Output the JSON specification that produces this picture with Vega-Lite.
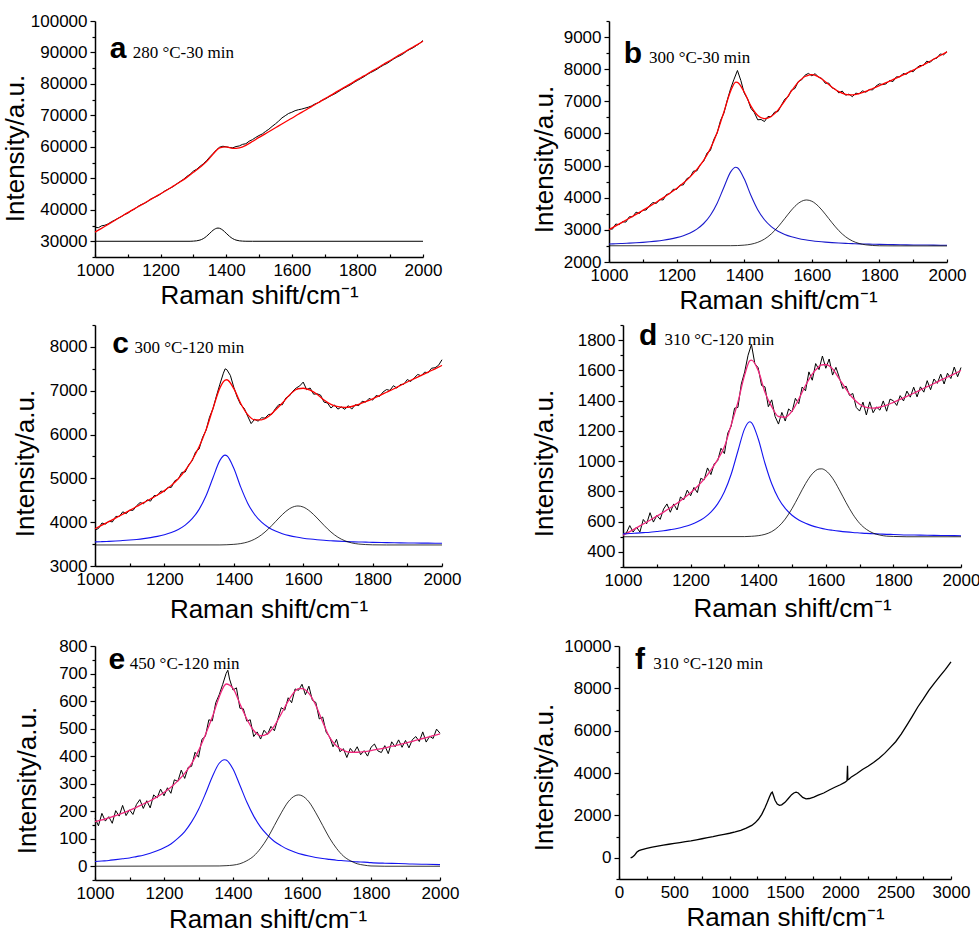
{
"$schema":"https://vega.github.io/schema/vega-lite/v6.json",
"background":"white",
"padding":{"left":2,"top":12,"right":0,"bottom":0},
"config":{"view":{"stroke":null},
"axis":{"labelFont":"Liberation Sans","labelFontSize":17,"labelColor":"black","titleFont":"Liberation Sans","titleFontSize":26,"titleFontWeight":"normal","titleColor":"black","domainColor":"black","domainWidth":1.5,"tickColor":"black","tickWidth":1.2,"grid":false,"labelOverlap":false,"labelFlush":false,"format":"d"},
"axisX":{"tickSize":-3,"labelPadding":8,"titlePadding":2},
"axisY":{"titlePadding":4,"labelPadding":3}},
"datasets":{
"a_exp":[{"x":1000,"y":34500},{"x":1010,"y":34300},{"x":1020,"y":34900},{"x":1030,"y":35100},{"x":1040,"y":35500},{"x":1050,"y":36200},{"x":1060,"y":36700},{"x":1070,"y":37300},{"x":1080,"y":37800},{"x":1090,"y":38500},{"x":1100,"y":38900},{"x":1110,"y":39700},{"x":1120,"y":40200},{"x":1130,"y":41000},{"x":1140,"y":41600},{"x":1150,"y":42000},{"x":1160,"y":42600},{"x":1170,"y":43400},{"x":1180,"y":43900},{"x":1190,"y":44400},{"x":1200,"y":45000},{"x":1210,"y":45800},{"x":1220,"y":46400},{"x":1230,"y":46900},{"x":1240,"y":47500},{"x":1250,"y":48300},{"x":1260,"y":49000},{"x":1270,"y":49700},{"x":1280,"y":50600},{"x":1290,"y":51300},{"x":1300,"y":52300},{"x":1310,"y":52900},{"x":1320,"y":53800},{"x":1330,"y":54600},{"x":1340,"y":55600},{"x":1350,"y":56800},{"x":1360,"y":57900},{"x":1370,"y":59000},{"x":1380,"y":59900},{"x":1390,"y":60200},{"x":1400,"y":60000},{"x":1410,"y":59800},{"x":1420,"y":59700},{"x":1430,"y":60100},{"x":1440,"y":60300},{"x":1450,"y":60800},{"x":1460,"y":61000},{"x":1470,"y":61800},{"x":1480,"y":62300},{"x":1490,"y":63000},{"x":1500,"y":63600},{"x":1510,"y":64100},{"x":1520,"y":64900},{"x":1530,"y":65600},{"x":1540,"y":66500},{"x":1550,"y":67300},{"x":1560,"y":68200},{"x":1570,"y":69200},{"x":1580,"y":69900},{"x":1590,"y":70600},{"x":1600,"y":71000},{"x":1610,"y":71500},{"x":1620,"y":71800},{"x":1630,"y":72000},{"x":1640,"y":72300},{"x":1650,"y":72600},{"x":1660,"y":73000},{"x":1670,"y":73600},{"x":1680,"y":74000},{"x":1690,"y":74700},{"x":1700,"y":75100},{"x":1710,"y":75700},{"x":1720,"y":76300},{"x":1730,"y":76800},{"x":1740,"y":77400},{"x":1750,"y":78100},{"x":1760,"y":78700},{"x":1770,"y":79200},{"x":1780,"y":79800},{"x":1790,"y":80500},{"x":1800,"y":81100},{"x":1810,"y":81700},{"x":1820,"y":82300},{"x":1830,"y":83000},{"x":1840,"y":83600},{"x":1850,"y":84100},{"x":1860,"y":84700},{"x":1870,"y":85400},{"x":1880,"y":86000},{"x":1890,"y":86500},{"x":1900,"y":87200},{"x":1910,"y":87900},{"x":1920,"y":88500},{"x":1930,"y":89000},{"x":1940,"y":89600},{"x":1950,"y":90400},{"x":1960,"y":91000},{"x":1970,"y":91500},{"x":1980,"y":92200},{"x":1990,"y":92900},{"x":2000,"y":93800}],
"a_fit":[{"x":1000,"y":32900},{"x":1020,"y":34100},{"x":1040,"y":35350},{"x":1060,"y":36600},{"x":1080,"y":37850},{"x":1100,"y":39100},{"x":1120,"y":40300},{"x":1140,"y":41500},{"x":1160,"y":42700},{"x":1180,"y":43900},{"x":1200,"y":45100},{"x":1220,"y":46300},{"x":1240,"y":47600},{"x":1260,"y":48900},{"x":1280,"y":50300},{"x":1300,"y":51900},{"x":1320,"y":53500},{"x":1340,"y":55300},{"x":1360,"y":57700},{"x":1380,"y":59700},{"x":1400,"y":60000},{"x":1420,"y":59500},{"x":1440,"y":59700},{"x":1460,"y":60500},{"x":1480,"y":61700},{"x":1500,"y":63000},{"x":1520,"y":64200},{"x":1540,"y":65450},{"x":1560,"y":66670},{"x":1580,"y":67900},{"x":1600,"y":69100},{"x":1620,"y":70350},{"x":1640,"y":71550},{"x":1660,"y":72800},{"x":1680,"y":74000},{"x":1700,"y":75250},{"x":1720,"y":76450},{"x":1740,"y":77700},{"x":1760,"y":78900},{"x":1780,"y":80100},{"x":1800,"y":81350},{"x":1820,"y":82550},{"x":1840,"y":83800},{"x":1860,"y":85000},{"x":1880,"y":86250},{"x":1900,"y":87450},{"x":1920,"y":88700},{"x":1940,"y":89900},{"x":1960,"y":91150},{"x":1980,"y":92350},{"x":2000,"y":93600}],
"a_c":[{"x":1000,"y":30000},{"x":1290,"y":30000},{"x":1300,"y":30046},{"x":1320,"y":30374},{"x":1330,"y":30832},{"x":1340,"y":31576},{"x":1350,"y":32547},{"x":1360,"y":33509},{"x":1375,"y":34200},{"x":1380,"y":34117},{"x":1390,"y":33509},{"x":1400,"y":32547},{"x":1410,"y":31576},{"x":1420,"y":30832},{"x":1430,"y":30374},{"x":1440,"y":30143},{"x":1460,"y":30010},{"x":1480,"y":30000},{"x":2000,"y":30000}],
"b_exp":[{"x":1000,"y":3040},{"x":1010,"y":3020},{"x":1020,"y":3183},{"x":1030,"y":3162},{"x":1040,"y":3252},{"x":1050,"y":3242},{"x":1060,"y":3407},{"x":1070,"y":3407},{"x":1080,"y":3552},{"x":1090,"y":3509},{"x":1100,"y":3611},{"x":1110,"y":3619},{"x":1120,"y":3757},{"x":1130,"y":3851},{"x":1140,"y":3821},{"x":1150,"y":3943},{"x":1160,"y":3930},{"x":1170,"y":4101},{"x":1180,"y":4128},{"x":1190,"y":4263},{"x":1200,"y":4258},{"x":1210,"y":4391},{"x":1220,"y":4400},{"x":1230,"y":4592},{"x":1240,"y":4645},{"x":1250,"y":4830},{"x":1260,"y":4835},{"x":1270,"y":5030},{"x":1280,"y":5135},{"x":1290,"y":5390},{"x":1300,"y":5470},{"x":1310,"y":5810},{"x":1320,"y":6015},{"x":1330,"y":6405},{"x":1340,"y":6635},{"x":1350,"y":7040},{"x":1360,"y":7400},{"x":1370,"y":7690},{"x":1380,"y":7960},{"x":1390,"y":7650},{"x":1400,"y":7260},{"x":1410,"y":7075},{"x":1420,"y":6780},{"x":1430,"y":6650},{"x":1440,"y":6425},{"x":1450,"y":6435},{"x":1460,"y":6370},{"x":1470,"y":6525},{"x":1480,"y":6525},{"x":1490,"y":6665},{"x":1500,"y":6682},{"x":1510,"y":6880},{"x":1520,"y":7066},{"x":1530,"y":7141},{"x":1540,"y":7352},{"x":1550,"y":7399},{"x":1560,"y":7616},{"x":1570,"y":7670},{"x":1580,"y":7814},{"x":1590,"y":7870},{"x":1600,"y":7795},{"x":1610,"y":7860},{"x":1620,"y":7750},{"x":1630,"y":7710},{"x":1640,"y":7560},{"x":1650,"y":7570},{"x":1660,"y":7420},{"x":1670,"y":7375},{"x":1680,"y":7260},{"x":1690,"y":7320},{"x":1700,"y":7190},{"x":1710,"y":7225},{"x":1720,"y":7145},{"x":1730,"y":7255},{"x":1740,"y":7235},{"x":1750,"y":7325},{"x":1760,"y":7285},{"x":1770,"y":7365},{"x":1780,"y":7355},{"x":1790,"y":7475},{"x":1800,"y":7545},{"x":1810,"y":7520},{"x":1820,"y":7545},{"x":1830,"y":7648},{"x":1840,"y":7615},{"x":1850,"y":7762},{"x":1860,"y":7760},{"x":1870,"y":7865},{"x":1880,"y":7840},{"x":1890,"y":7945},{"x":1900,"y":7920},{"x":1910,"y":8040},{"x":1920,"y":8115},{"x":1930,"y":8115},{"x":1940,"y":8250},{"x":1950,"y":8210},{"x":1960,"y":8315},{"x":1970,"y":8343},{"x":1980,"y":8475},{"x":1990,"y":8447},{"x":2000,"y":8550}],
"b_fit":[{"x":1000,"y":3007},{"x":1020,"y":3123},{"x":1040,"y":3242},{"x":1060,"y":3362},{"x":1080,"y":3482},{"x":1100,"y":3606},{"x":1120,"y":3732},{"x":1140,"y":3861},{"x":1160,"y":3995},{"x":1180,"y":4138},{"x":1200,"y":4288},{"x":1220,"y":4455},{"x":1240,"y":4650},{"x":1260,"y":4880},{"x":1280,"y":5160},{"x":1300,"y":5530},{"x":1320,"y":6030},{"x":1340,"y":6670},{"x":1360,"y":7320},{"x":1375,"y":7600},{"x":1380,"y":7590},{"x":1400,"y":7290},{"x":1420,"y":6850},{"x":1440,"y":6560},{"x":1460,"y":6460},{"x":1480,"y":6530},{"x":1500,"y":6727},{"x":1520,"y":7011},{"x":1540,"y":7322},{"x":1560,"y":7596},{"x":1580,"y":7774},{"x":1585,"y":7795},{"x":1600,"y":7830},{"x":1620,"y":7760},{"x":1640,"y":7610},{"x":1660,"y":7440},{"x":1680,"y":7300},{"x":1700,"y":7220},{"x":1720,"y":7200},{"x":1740,"y":7240},{"x":1760,"y":7310},{"x":1780,"y":7400},{"x":1800,"y":7490},{"x":1820,"y":7580},{"x":1840,"y":7675},{"x":1860,"y":7770},{"x":1880,"y":7870},{"x":1900,"y":7970},{"x":1920,"y":8080},{"x":1940,"y":8190},{"x":1960,"y":8310},{"x":1980,"y":8425},{"x":2000,"y":8540}],
"b_l":[{"x":1000,"y":2561},{"x":1020,"y":2568},{"x":1040,"y":2576},{"x":1060,"y":2586},{"x":1080,"y":2597},{"x":1100,"y":2611},{"x":1120,"y":2629},{"x":1140,"y":2650},{"x":1160,"y":2677},{"x":1180,"y":2712},{"x":1200,"y":2758},{"x":1220,"y":2819},{"x":1240,"y":2904},{"x":1260,"y":3024},{"x":1280,"y":3198},{"x":1300,"y":3456},{"x":1320,"y":3831},{"x":1340,"y":4328},{"x":1360,"y":4806},{"x":1375,"y":4950},{"x":1380,"y":4933},{"x":1400,"y":4588},{"x":1420,"y":4068},{"x":1440,"y":3627},{"x":1460,"y":3315},{"x":1480,"y":3103},{"x":1500,"y":2959},{"x":1520,"y":2858},{"x":1540,"y":2786},{"x":1560,"y":2733},{"x":1580,"y":2693},{"x":1600,"y":2663},{"x":1620,"y":2639},{"x":1640,"y":2620},{"x":1660,"y":2604},{"x":1680,"y":2591},{"x":1700,"y":2581},{"x":1720,"y":2572},{"x":1740,"y":2564},{"x":1760,"y":2558},{"x":1780,"y":2553},{"x":1800,"y":2548},{"x":1840,"y":2540},{"x":1880,"y":2534},{"x":1920,"y":2529},{"x":1960,"y":2525},{"x":2000,"y":2522}],
"b_g":[{"x":1000,"y":2505},{"x":1360,"y":2508},{"x":1380,"y":2512},{"x":1400,"y":2525},{"x":1420,"y":2553},{"x":1440,"y":2612},{"x":1460,"y":2713},{"x":1480,"y":2873},{"x":1500,"y":3092},{"x":1520,"y":3354},{"x":1540,"y":3617},{"x":1560,"y":3825},{"x":1580,"y":3926},{"x":1585,"y":3930},{"x":1600,"y":3891},{"x":1620,"y":3731},{"x":1640,"y":3488},{"x":1660,"y":3220},{"x":1680,"y":2975},{"x":1700,"y":2785},{"x":1720,"y":2655},{"x":1740,"y":2576},{"x":1760,"y":2534},{"x":1780,"y":2514},{"x":1800,"y":2505},{"x":1840,"y":2502},{"x":2000,"y":2500}],
"c_exp":[{"x":1000,"y":3820},{"x":1010,"y":3856},{"x":1020,"y":3981},{"x":1030,"y":3957},{"x":1040,"y":4023},{"x":1050,"y":4005},{"x":1060,"y":4132},{"x":1070,"y":4130},{"x":1080,"y":4237},{"x":1090,"y":4195},{"x":1100,"y":4273},{"x":1110,"y":4272},{"x":1120,"y":4377},{"x":1130,"y":4448},{"x":1140,"y":4420},{"x":1150,"y":4510},{"x":1160,"y":4480},{"x":1170,"y":4605},{"x":1180,"y":4610},{"x":1190,"y":4710},{"x":1200,"y":4695},{"x":1210,"y":4795},{"x":1220,"y":4795},{"x":1230,"y":4945},{"x":1240,"y":4985},{"x":1250,"y":5135},{"x":1260,"y":5145},{"x":1270,"y":5310},{"x":1280,"y":5400},{"x":1290,"y":5605},{"x":1300,"y":5670},{"x":1310,"y":5935},{"x":1320,"y":6096},{"x":1330,"y":6395},{"x":1340,"y":6590},{"x":1350,"y":6880},{"x":1360,"y":7150},{"x":1370,"y":7400},{"x":1375,"y":7500},{"x":1380,"y":7480},{"x":1390,"y":7350},{"x":1400,"y":7080},{"x":1410,"y":6850},{"x":1420,"y":6680},{"x":1430,"y":6600},{"x":1440,"y":6420},{"x":1450,"y":6250},{"x":1460,"y":6350},{"x":1470,"y":6305},{"x":1480,"y":6382},{"x":1490,"y":6375},{"x":1500,"y":6458},{"x":1510,"y":6465},{"x":1520,"y":6593},{"x":1530,"y":6685},{"x":1540,"y":6680},{"x":1550,"y":6835},{"x":1560,"y":6879},{"x":1570,"y":6990},{"x":1580,"y":7063},{"x":1590,"y":7110},{"x":1600,"y":7197},{"x":1610,"y":7025},{"x":1620,"y":7062},{"x":1630,"y":6921},{"x":1640,"y":6930},{"x":1650,"y":6900},{"x":1660,"y":6740},{"x":1670,"y":6720},{"x":1680,"y":6605},{"x":1690,"y":6675},{"x":1700,"y":6580},{"x":1710,"y":6630},{"x":1720,"y":6575},{"x":1730,"y":6660},{"x":1740,"y":6580},{"x":1750,"y":6680},{"x":1760,"y":6660},{"x":1770,"y":6760},{"x":1780,"y":6740},{"x":1790,"y":6825},{"x":1800,"y":6785},{"x":1810,"y":6890},{"x":1820,"y":6869},{"x":1830,"y":6970},{"x":1840,"y":7026},{"x":1850,"y":7008},{"x":1860,"y":7115},{"x":1870,"y":7060},{"x":1880,"y":7142},{"x":1890,"y":7148},{"x":1900,"y":7255},{"x":1910,"y":7211},{"x":1920,"y":7293},{"x":1930,"y":7370},{"x":1940,"y":7342},{"x":1950,"y":7424},{"x":1960,"y":7411},{"x":1970,"y":7513},{"x":1980,"y":7525},{"x":1990,"y":7580},{"x":2000,"y":7708}],
"c_fit":[{"x":1000,"y":3851},{"x":1020,"y":3931},{"x":1040,"y":4013},{"x":1060,"y":4097},{"x":1080,"y":4182},{"x":1100,"y":4268},{"x":1120,"y":4357},{"x":1140,"y":4445},{"x":1160,"y":4530},{"x":1180,"y":4620},{"x":1200,"y":4720},{"x":1220,"y":4840},{"x":1240,"y":4990},{"x":1260,"y":5180},{"x":1280,"y":5420},{"x":1300,"y":5720},{"x":1320,"y":6106},{"x":1340,"y":6593},{"x":1360,"y":7065},{"x":1375,"y":7241},{"x":1380,"y":7250},{"x":1400,"y":7048},{"x":1420,"y":6710},{"x":1440,"y":6456},{"x":1460,"y":6337},{"x":1480,"y":6337},{"x":1500,"y":6410},{"x":1520,"y":6560},{"x":1540,"y":6720},{"x":1560,"y":6900},{"x":1580,"y":7028},{"x":1585,"y":7045},{"x":1600,"y":7057},{"x":1620,"y":7012},{"x":1640,"y":6920},{"x":1660,"y":6790},{"x":1680,"y":6690},{"x":1700,"y":6635},{"x":1720,"y":6620},{"x":1740,"y":6640},{"x":1760,"y":6690},{"x":1780,"y":6750},{"x":1800,"y":6815},{"x":1820,"y":6890},{"x":1840,"y":6965},{"x":1860,"y":7040},{"x":1880,"y":7120},{"x":1900,"y":7200},{"x":1920,"y":7275},{"x":1940,"y":7350},{"x":1960,"y":7425},{"x":1980,"y":7500},{"x":2000,"y":7578}],
"c_l":[{"x":1000,"y":3551},{"x":1020,"y":3556},{"x":1040,"y":3563},{"x":1060,"y":3571},{"x":1080,"y":3581},{"x":1100,"y":3592},{"x":1120,"y":3606},{"x":1140,"y":3624},{"x":1160,"y":3647},{"x":1180,"y":3676},{"x":1200,"y":3714},{"x":1220,"y":3765},{"x":1240,"y":3835},{"x":1260,"y":3934},{"x":1280,"y":4079},{"x":1300,"y":4292},{"x":1320,"y":4603},{"x":1340,"y":5015},{"x":1360,"y":5411},{"x":1375,"y":5530},{"x":1380,"y":5516},{"x":1400,"y":5230},{"x":1420,"y":4799},{"x":1440,"y":4434},{"x":1460,"y":4175},{"x":1480,"y":4000},{"x":1500,"y":3880},{"x":1520,"y":3797},{"x":1540,"y":3737},{"x":1560,"y":3693},{"x":1580,"y":3660},{"x":1600,"y":3635},{"x":1620,"y":3615},{"x":1640,"y":3599},{"x":1660,"y":3586},{"x":1680,"y":3576},{"x":1700,"y":3567},{"x":1720,"y":3560},{"x":1740,"y":3553},{"x":1760,"y":3548},{"x":1780,"y":3544},{"x":1800,"y":3540},{"x":1840,"y":3533},{"x":1880,"y":3528},{"x":1920,"y":3524},{"x":1960,"y":3521},{"x":2000,"y":3518}],
"c_g":[{"x":1000,"y":3480},{"x":1360,"y":3481},{"x":1380,"y":3485},{"x":1400,"y":3494},{"x":1420,"y":3512},{"x":1440,"y":3548},{"x":1460,"y":3612},{"x":1480,"y":3712},{"x":1500,"y":3848},{"x":1520,"y":4011},{"x":1540,"y":4175},{"x":1560,"y":4305},{"x":1580,"y":4367},{"x":1585,"y":4370},{"x":1600,"y":4346},{"x":1620,"y":4246},{"x":1640,"y":4095},{"x":1660,"y":3928},{"x":1680,"y":3776},{"x":1700,"y":3657},{"x":1720,"y":3576},{"x":1740,"y":3527},{"x":1760,"y":3501},{"x":1780,"y":3489},{"x":1800,"y":3483},{"x":1840,"y":3480},{"x":2000,"y":3480}],
"d_exp":[{"x":1000,"y":520},{"x":1010,"y":525},{"x":1020,"y":574},{"x":1030,"y":531},{"x":1040,"y":564},{"x":1050,"y":531},{"x":1060,"y":614},{"x":1070,"y":586},{"x":1080,"y":659},{"x":1090,"y":597},{"x":1100,"y":641},{"x":1110,"y":615},{"x":1120,"y":683},{"x":1130,"y":717},{"x":1140,"y":662},{"x":1150,"y":717},{"x":1160,"y":677},{"x":1170,"y":763},{"x":1180,"y":745},{"x":1190,"y":808},{"x":1200,"y":771},{"x":1210,"y":826},{"x":1220,"y":792},{"x":1230,"y":886},{"x":1240,"y":876},{"x":1250,"y":955},{"x":1260,"y":911},{"x":1270,"y":983},{"x":1280,"y":1002},{"x":1290,"y":1085},{"x":1300,"y":1050},{"x":1310,"y":1185},{"x":1320,"y":1230},{"x":1330,"y":1350},{"x":1340,"y":1355},{"x":1350,"y":1510},{"x":1360,"y":1590},{"x":1370,"y":1700},{"x":1380,"y":1771},{"x":1390,"y":1645},{"x":1400,"y":1617},{"x":1410,"y":1500},{"x":1420,"y":1491},{"x":1430,"y":1360},{"x":1440,"y":1405},{"x":1450,"y":1295},{"x":1460,"y":1245},{"x":1470,"y":1322},{"x":1480,"y":1265},{"x":1490,"y":1345},{"x":1500,"y":1325},{"x":1510,"y":1415},{"x":1520,"y":1380},{"x":1530,"y":1490},{"x":1540,"y":1465},{"x":1550,"y":1590},{"x":1560,"y":1535},{"x":1570,"y":1645},{"x":1580,"y":1605},{"x":1590,"y":1695},{"x":1600,"y":1614},{"x":1610,"y":1675},{"x":1620,"y":1569},{"x":1630,"y":1620},{"x":1640,"y":1553},{"x":1650,"y":1480},{"x":1660,"y":1496},{"x":1670,"y":1435},{"x":1680,"y":1447},{"x":1690,"y":1355},{"x":1700,"y":1331},{"x":1710,"y":1390},{"x":1720,"y":1305},{"x":1730,"y":1392},{"x":1740,"y":1320},{"x":1750,"y":1358},{"x":1760,"y":1337},{"x":1770,"y":1398},{"x":1780,"y":1330},{"x":1790,"y":1410},{"x":1800,"y":1399},{"x":1810,"y":1368},{"x":1820,"y":1433},{"x":1830,"y":1398},{"x":1840,"y":1463},{"x":1850,"y":1423},{"x":1860,"y":1489},{"x":1870,"y":1425},{"x":1880,"y":1491},{"x":1890,"y":1456},{"x":1900,"y":1532},{"x":1910,"y":1472},{"x":1920,"y":1543},{"x":1930,"y":1514},{"x":1940,"y":1575},{"x":1950,"y":1510},{"x":1960,"y":1581},{"x":1970,"y":1546},{"x":1980,"y":1622},{"x":1990,"y":1558},{"x":2000,"y":1619}],
"d_fit":[{"x":1000,"y":510},{"x":1020,"y":534},{"x":1040,"y":559},{"x":1060,"y":584},{"x":1080,"y":609},{"x":1100,"y":636},{"x":1120,"y":663},{"x":1140,"y":692},{"x":1160,"y":722},{"x":1180,"y":755},{"x":1200,"y":791},{"x":1220,"y":832},{"x":1240,"y":881},{"x":1260,"y":941},{"x":1280,"y":1010},{"x":1300,"y":1095},{"x":1320,"y":1240},{"x":1340,"y":1390},{"x":1360,"y":1570},{"x":1375,"y":1664},{"x":1380,"y":1668},{"x":1400,"y":1600},{"x":1420,"y":1456},{"x":1440,"y":1360},{"x":1460,"y":1295},{"x":1480,"y":1290},{"x":1500,"y":1330},{"x":1520,"y":1410},{"x":1540,"y":1500},{"x":1560,"y":1575},{"x":1580,"y":1625},{"x":1585,"y":1635},{"x":1600,"y":1639},{"x":1620,"y":1610},{"x":1640,"y":1543},{"x":1660,"y":1476},{"x":1680,"y":1417},{"x":1700,"y":1376},{"x":1720,"y":1355},{"x":1740,"y":1350},{"x":1760,"y":1357},{"x":1780,"y":1370},{"x":1800,"y":1389},{"x":1820,"y":1408},{"x":1840,"y":1428},{"x":1860,"y":1449},{"x":1880,"y":1471},{"x":1900,"y":1492},{"x":1920,"y":1513},{"x":1940,"y":1535},{"x":1960,"y":1556},{"x":1980,"y":1577},{"x":2000,"y":1599}],
"d_l":[{"x":1000,"y":519},{"x":1020,"y":521},{"x":1040,"y":524},{"x":1060,"y":527},{"x":1080,"y":530},{"x":1100,"y":535},{"x":1120,"y":540},{"x":1140,"y":547},{"x":1160,"y":555},{"x":1180,"y":566},{"x":1200,"y":580},{"x":1220,"y":599},{"x":1240,"y":625},{"x":1260,"y":663},{"x":1280,"y":717},{"x":1300,"y":797},{"x":1320,"y":913},{"x":1340,"y":1067},{"x":1360,"y":1215},{"x":1375,"y":1260},{"x":1380,"y":1255},{"x":1400,"y":1148},{"x":1420,"y":986},{"x":1440,"y":850},{"x":1460,"y":753},{"x":1480,"y":687},{"x":1500,"y":642},{"x":1520,"y":611},{"x":1540,"y":589},{"x":1560,"y":572},{"x":1580,"y":560},{"x":1600,"y":550},{"x":1620,"y":543},{"x":1640,"y":537},{"x":1660,"y":532},{"x":1680,"y":528},{"x":1700,"y":525},{"x":1720,"y":522},{"x":1740,"y":520},{"x":1760,"y":518},{"x":1780,"y":516},{"x":1800,"y":515},{"x":1840,"y":512},{"x":1880,"y":511},{"x":1920,"y":509},{"x":1960,"y":508},{"x":2000,"y":507}],
"d_g":[{"x":1000,"y":500},{"x":1360,"y":501},{"x":1380,"y":503},{"x":1400,"y":507},{"x":1420,"y":516},{"x":1440,"y":534},{"x":1460,"y":567},{"x":1480,"y":617},{"x":1500,"y":686},{"x":1520,"y":768},{"x":1540,"y":851},{"x":1560,"y":916},{"x":1580,"y":948},{"x":1588,"y":949},{"x":1600,"y":937},{"x":1620,"y":887},{"x":1640,"y":810},{"x":1660,"y":726},{"x":1680,"y":649},{"x":1700,"y":589},{"x":1720,"y":549},{"x":1740,"y":524},{"x":1760,"y":511},{"x":1780,"y":504},{"x":1800,"y":502},{"x":1840,"y":500},{"x":2000,"y":500}],
"e_exp":[{"x":1000,"y":174},{"x":1010,"y":147},{"x":1020,"y":192},{"x":1030,"y":164},{"x":1040,"y":180},{"x":1050,"y":156},{"x":1060,"y":202},{"x":1070,"y":182},{"x":1080,"y":221},{"x":1090,"y":184},{"x":1100,"y":205},{"x":1110,"y":188},{"x":1120,"y":224},{"x":1130,"y":242},{"x":1140,"y":210},{"x":1150,"y":238},{"x":1160,"y":212},{"x":1170,"y":259},{"x":1180,"y":248},{"x":1190,"y":280},{"x":1200,"y":256},{"x":1210,"y":285},{"x":1220,"y":265},{"x":1230,"y":314},{"x":1240,"y":308},{"x":1250,"y":349},{"x":1260,"y":319},{"x":1270,"y":359},{"x":1280,"y":363},{"x":1290,"y":414},{"x":1300,"y":396},{"x":1310,"y":461},{"x":1320,"y":472},{"x":1330,"y":532},{"x":1340,"y":528},{"x":1350,"y":594},{"x":1360,"y":623},{"x":1370,"y":660},{"x":1380,"y":700},{"x":1385,"y":712},{"x":1390,"y":680},{"x":1400,"y":640},{"x":1410,"y":648},{"x":1420,"y":574},{"x":1430,"y":572},{"x":1440,"y":527},{"x":1450,"y":532},{"x":1460,"y":471},{"x":1470,"y":488},{"x":1480,"y":462},{"x":1490,"y":494},{"x":1500,"y":479},{"x":1510,"y":508},{"x":1520,"y":492},{"x":1530,"y":535},{"x":1540,"y":576},{"x":1550,"y":567},{"x":1560,"y":612},{"x":1570,"y":594},{"x":1580,"y":644},{"x":1590,"y":639},{"x":1600,"y":661},{"x":1610,"y":623},{"x":1620,"y":654},{"x":1630,"y":603},{"x":1640,"y":595},{"x":1650,"y":535},{"x":1660,"y":542},{"x":1670,"y":487},{"x":1680,"y":470},{"x":1690,"y":434},{"x":1700,"y":461},{"x":1710,"y":416},{"x":1720,"y":427},{"x":1730,"y":395},{"x":1740,"y":428},{"x":1750,"y":412},{"x":1760,"y":434},{"x":1770,"y":405},{"x":1780,"y":420},{"x":1790,"y":400},{"x":1800,"y":432},{"x":1810,"y":444},{"x":1820,"y":419},{"x":1830,"y":413},{"x":1840,"y":438},{"x":1850,"y":409},{"x":1860,"y":452},{"x":1870,"y":434},{"x":1880,"y":459},{"x":1890,"y":432},{"x":1900,"y":457},{"x":1910,"y":430},{"x":1920,"y":460},{"x":1930,"y":471},{"x":1940,"y":453},{"x":1950,"y":488},{"x":1960,"y":451},{"x":1970,"y":472},{"x":1980,"y":464},{"x":1990,"y":498},{"x":2000,"y":483}],
"e_fit":[{"x":1000,"y":162},{"x":1020,"y":168},{"x":1040,"y":176},{"x":1060,"y":184},{"x":1080,"y":193},{"x":1100,"y":203},{"x":1120,"y":214},{"x":1140,"y":226},{"x":1160,"y":238},{"x":1180,"y":252},{"x":1200,"y":268},{"x":1220,"y":287},{"x":1240,"y":310},{"x":1260,"y":337},{"x":1280,"y":373},{"x":1300,"y":420},{"x":1320,"y":478},{"x":1340,"y":542},{"x":1360,"y":615},{"x":1375,"y":656},{"x":1380,"y":662},{"x":1400,"y":646},{"x":1420,"y":590},{"x":1440,"y":535},{"x":1460,"y":493},{"x":1480,"y":474},{"x":1500,"y":481},{"x":1520,"y":510},{"x":1540,"y":554},{"x":1560,"y":600},{"x":1580,"y":636},{"x":1590,"y":645},{"x":1600,"y":645},{"x":1620,"y":628},{"x":1640,"y":585},{"x":1660,"y":524},{"x":1680,"y":468},{"x":1700,"y":437},{"x":1720,"y":421},{"x":1740,"y":414},{"x":1760,"y":414},{"x":1780,"y":416},{"x":1800,"y":420},{"x":1820,"y":425},{"x":1840,"y":430},{"x":1860,"y":436},{"x":1880,"y":441},{"x":1900,"y":447},{"x":1920,"y":454},{"x":1940,"y":461},{"x":1960,"y":467},{"x":1980,"y":474},{"x":2000,"y":481}],
"e_l":[{"x":1000,"y":17},{"x":1020,"y":19},{"x":1040,"y":21},{"x":1060,"y":24},{"x":1080,"y":27},{"x":1100,"y":30},{"x":1120,"y":35},{"x":1140,"y":40},{"x":1160,"y":47},{"x":1180,"y":56},{"x":1200,"y":67},{"x":1220,"y":81},{"x":1240,"y":101},{"x":1260,"y":126},{"x":1280,"y":161},{"x":1300,"y":206},{"x":1320,"y":263},{"x":1340,"y":325},{"x":1360,"y":374},{"x":1375,"y":387},{"x":1380,"y":386},{"x":1400,"y":353},{"x":1420,"y":294},{"x":1440,"y":233},{"x":1460,"y":182},{"x":1480,"y":142},{"x":1500,"y":113},{"x":1520,"y":90},{"x":1540,"y":74},{"x":1560,"y":61},{"x":1580,"y":51},{"x":1600,"y":43},{"x":1620,"y":37},{"x":1640,"y":32},{"x":1660,"y":28},{"x":1680,"y":25},{"x":1700,"y":22},{"x":1720,"y":20},{"x":1740,"y":18},{"x":1760,"y":16},{"x":1780,"y":15},{"x":1800,"y":13},{"x":1840,"y":11},{"x":1880,"y":10},{"x":1920,"y":8},{"x":1960,"y":7},{"x":2000,"y":6}],
"e_g":[{"x":1000,"y":0},{"x":1360,"y":1},{"x":1380,"y":2},{"x":1400,"y":4},{"x":1420,"y":9},{"x":1440,"y":20},{"x":1460,"y":37},{"x":1480,"y":65},{"x":1500,"y":102},{"x":1520,"y":148},{"x":1540,"y":194},{"x":1560,"y":234},{"x":1580,"y":256},{"x":1590,"y":259},{"x":1600,"y":256},{"x":1620,"y":234},{"x":1640,"y":194},{"x":1660,"y":148},{"x":1680,"y":102},{"x":1700,"y":65},{"x":1720,"y":37},{"x":1740,"y":20},{"x":1760,"y":9},{"x":1780,"y":4},{"x":1800,"y":1},{"x":1840,"y":0},{"x":2000,"y":0}],
"f_exp":[{"x":105,"y":0},{"x":120,"y":30},{"x":140,"y":120},{"x":160,"y":260},{"x":180,"y":340},{"x":200,"y":380},{"x":250,"y":450},{"x":300,"y":500},{"x":350,"y":550},{"x":400,"y":600},{"x":450,"y":640},{"x":500,"y":680},{"x":550,"y":720},{"x":600,"y":760},{"x":650,"y":800},{"x":700,"y":850},{"x":750,"y":900},{"x":800,"y":950},{"x":850,"y":1000},{"x":900,"y":1060},{"x":950,"y":1110},{"x":1000,"y":1160},{"x":1050,"y":1220},{"x":1100,"y":1300},{"x":1150,"y":1400},{"x":1200,"y":1530},{"x":1230,"y":1650},{"x":1260,"y":1820},{"x":1290,"y":2050},{"x":1320,"y":2380},{"x":1340,"y":2620},{"x":1360,"y":2880},{"x":1375,"y":3050},{"x":1385,"y":3100},{"x":1395,"y":2950},{"x":1410,"y":2720},{"x":1430,"y":2540},{"x":1450,"y":2480},{"x":1470,"y":2500},{"x":1500,"y":2620},{"x":1530,"y":2800},{"x":1560,"y":2980},{"x":1580,"y":3060},{"x":1600,"y":3100},{"x":1620,"y":3060},{"x":1640,"y":2950},{"x":1660,"y":2850},{"x":1690,"y":2780},{"x":1720,"y":2800},{"x":1760,"y":2870},{"x":1800,"y":2960},{"x":1850,"y":3060},{"x":1900,"y":3200},{"x":1950,"y":3330},{"x":2000,"y":3450},{"x":2040,"y":3560},{"x":2060,"y":3640},{"x":2065,"y":4350},{"x":2068,"y":3680},{"x":2080,"y":3720},{"x":2100,"y":3820},{"x":2150,"y":3980},{"x":2200,"y":4170},{"x":2250,"y":4320},{"x":2300,"y":4500},{"x":2350,"y":4700},{"x":2400,"y":4930},{"x":2450,"y":5200},{"x":2500,"y":5480},{"x":2550,"y":5840},{"x":2600,"y":6250},{"x":2650,"y":6680},{"x":2700,"y":7120},{"x":2750,"y":7500},{"x":2800,"y":7900},{"x":2850,"y":8250},{"x":2900,"y":8580},{"x":2950,"y":8900},{"x":3000,"y":9250}]
},
"columns":2,
"align":"none",
"spacing":{"row":3,"column":70},
"concat":[
{"width":328,"height":236,"resolve":{"axis":{"x":"independent","y":"independent"}},"layer":[
{"encoding":{"x":{"field":"x","type":"quantitative","scale":{"domain":[1000,2000],"nice":false,"zero":false},"axis":{"title":"Raman shift/cm⁻¹","titlePadding":4,"values":[1000,1100,1200,1300,1400,1500,1600,1700,1800,1900,2000],"labelExpr":"datum.value % 200 === 0 ? datum.label : ''"}},
"y":{"field":"y","type":"quantitative","scale":{"domain":[25000,100000],"nice":false,"zero":false},"axis":{"title":"Intensity/a.u.","titlePadding":2,"titleY":127,"values":[25000,30000,35000,40000,45000,50000,55000,60000,65000,70000,75000,80000,85000,90000,95000,100000],"labelExpr":"datum.value % 10000 === 0 ? datum.label : ''","tickSize":{"condition":{"test":"datum.value % 10000 === 0","value":5},"value":3}}}},
"layer":[
{"data":{"name":"a_exp"},"mark":{"type":"line","color":"black","strokeWidth":1}},
{"data":{"name":"a_fit"},"mark":{"type":"line","color":"#ff0000","strokeWidth":1.3,"interpolate":"monotone"}},
{"data":{"name":"a_c"},"mark":{"type":"line","color":"black","strokeWidth":1,"interpolate":"monotone"}}]},
{"data":{"values":[{}]},"mark":{"type":"text","text":"a","font":"Liberation Sans","fontWeight":"bold","fontSize":30,"align":"left","baseline":"alphabetic","color":"black"},"encoding":{"x":{"datum":1045,"axis":null},"y":{"datum":88100,"axis":null}}},
{"data":{"values":[{}]},"mark":{"type":"text","text":"280 °C-30 min","font":"Liberation Serif","fontSize":17,"align":"left","baseline":"alphabetic","color":"black"},"encoding":{"x":{"datum":1115,"axis":null},"y":{"datum":88300,"axis":null}}}
]},
{"width":338,"height":241,"resolve":{"axis":{"x":"independent","y":"independent"}},"layer":[
{"encoding":{"x":{"field":"x","type":"quantitative","scale":{"domain":[1000,2000],"nice":false,"zero":false},"axis":{"title":"Raman shift/cm⁻¹","titlePadding":4,"values":[1000,1100,1200,1300,1400,1500,1600,1700,1800,1900,2000],"labelExpr":"datum.value % 200 === 0 ? datum.label : ''"}},
"y":{"field":"y","type":"quantitative","scale":{"domain":[2000,9500],"nice":false,"zero":false},"axis":{"title":"Intensity/a.u.","titlePadding":6,"titleY":138,"values":[2000,2500,3000,3500,4000,4500,5000,5500,6000,6500,7000,7500,8000,8500,9000,9500],"labelExpr":"datum.value % 1000 === 0 ? datum.label : ''","tickSize":{"condition":{"test":"datum.value % 1000 === 0","value":5},"value":3}}}},
"layer":[
{"data":{"name":"b_exp"},"mark":{"type":"line","color":"black","strokeWidth":1}},
{"data":{"name":"b_fit"},"mark":{"type":"line","color":"#ff0000","strokeWidth":1.3,"interpolate":"monotone"}},
{"data":{"name":"b_l"},"mark":{"type":"line","color":"#1a1acc","strokeWidth":1.1,"interpolate":"monotone"}},
{"data":{"name":"b_g"},"mark":{"type":"line","color":"black","strokeWidth":0.8,"interpolate":"monotone"}}]},
{"data":{"values":[{}]},"mark":{"type":"text","text":"b","font":"Liberation Sans","fontWeight":"bold","fontSize":30,"align":"left","baseline":"alphabetic","color":"black"},"encoding":{"x":{"datum":1044,"axis":null},"y":{"datum":8200,"axis":null}}},
{"data":{"values":[{}]},"mark":{"type":"text","text":"300 °C-30 min","font":"Liberation Serif","fontSize":17,"align":"left","baseline":"alphabetic","color":"black"},"encoding":{"x":{"datum":1118,"axis":null},"y":{"datum":8200,"axis":null}}}
]},
{"width":347,"height":241,"resolve":{"axis":{"x":"independent","y":"independent"}},"layer":[
{"encoding":{"x":{"field":"x","type":"quantitative","scale":{"domain":[1000,2000],"nice":false,"zero":false},"axis":{"title":"Raman shift/cm⁻¹","titlePadding":9,"values":[1000,1100,1200,1300,1400,1500,1600,1700,1800,1900,2000],"labelExpr":"datum.value % 200 === 0 ? datum.label : ''"}},
"y":{"field":"y","type":"quantitative","scale":{"domain":[3000,8500],"nice":false,"zero":false},"axis":{"title":"Intensity/a.u.","titlePadding":11,"titleY":138,"values":[3000,3500,4000,4500,5000,5500,6000,6500,7000,7500,8000,8500],"labelExpr":"datum.value % 1000 === 0 ? datum.label : ''","tickSize":{"condition":{"test":"datum.value % 1000 === 0","value":5},"value":3}}}},
"layer":[
{"data":{"name":"c_exp"},"mark":{"type":"line","color":"black","strokeWidth":1}},
{"data":{"name":"c_fit"},"mark":{"type":"line","color":"#ff0000","strokeWidth":1.3,"interpolate":"monotone"}},
{"data":{"name":"c_l"},"mark":{"type":"line","color":"#1414f0","strokeWidth":1.1,"interpolate":"monotone"}},
{"data":{"name":"c_g"},"mark":{"type":"line","color":"black","strokeWidth":0.8,"interpolate":"monotone"}}]},
{"data":{"values":[{}]},"mark":{"type":"text","text":"c","font":"Liberation Sans","fontWeight":"bold","fontSize":30,"align":"left","baseline":"alphabetic","color":"black"},"encoding":{"x":{"datum":1050,"axis":null},"y":{"datum":7850,"axis":null}}},
{"data":{"values":[{}]},"mark":{"type":"text","text":"300 °C-120 min","font":"Liberation Serif","fontSize":17,"align":"left","baseline":"alphabetic","color":"black"},"encoding":{"x":{"datum":1114,"axis":null},"y":{"datum":7850,"axis":null}}}
]},
{"width":338,"height":242,"resolve":{"axis":{"x":"independent","y":"independent"}},"layer":[
{"encoding":{"x":{"field":"x","type":"quantitative","scale":{"domain":[1000,2000],"nice":false,"zero":false},"axis":{"title":"Raman shift/cm⁻¹","titlePadding":7,"values":[1000,1100,1200,1300,1400,1500,1600,1700,1800,1900,2000],"labelExpr":"datum.value % 200 === 0 ? datum.label : ''"}},
"y":{"field":"y","type":"quantitative","scale":{"domain":[300,1900],"nice":false,"zero":false},"axis":{"title":"Intensity/a.u.","titlePadding":20,"titleY":138,"values":[300,400,500,600,700,800,900,1000,1100,1200,1300,1400,1500,1600,1700,1800,1900],"labelExpr":"datum.value % 200 === 0 ? datum.label : ''","tickSize":{"condition":{"test":"datum.value % 200 === 0","value":5},"value":3}}}},
"layer":[
{"data":{"name":"d_exp"},"mark":{"type":"line","color":"black","strokeWidth":1}},
{"data":{"name":"d_fit"},"mark":{"type":"line","color":"#f0287d","strokeWidth":1.3,"interpolate":"monotone"}},
{"data":{"name":"d_l"},"mark":{"type":"line","color":"#1414f0","strokeWidth":1.1,"interpolate":"monotone"}},
{"data":{"name":"d_g"},"mark":{"type":"line","color":"black","strokeWidth":0.8,"interpolate":"monotone"}}]},
{"data":{"values":[{}]},"mark":{"type":"text","text":"d","font":"Liberation Sans","fontWeight":"bold","fontSize":30,"align":"left","baseline":"alphabetic","color":"black"},"encoding":{"x":{"datum":1047,"axis":null},"y":{"datum":1765,"axis":null}}},
{"data":{"values":[{}]},"mark":{"type":"text","text":"310 °C-120 min","font":"Liberation Serif","fontSize":17,"align":"left","baseline":"alphabetic","color":"black"},"encoding":{"x":{"datum":1123,"axis":null},"y":{"datum":1765,"axis":null}}}
]},
{"width":345,"height":234,"title":{"text":" ","fontSize":2,"offset":10},"resolve":{"axis":{"x":"independent","y":"independent"}},"layer":[
{"encoding":{"x":{"field":"x","type":"quantitative","scale":{"domain":[1000,2000],"nice":false,"zero":false},"axis":{"title":"Raman shift/cm⁻¹","titlePadding":5,"values":[1000,1100,1200,1300,1400,1500,1600,1700,1800,1900,2000],"labelExpr":"datum.value % 200 === 0 ? datum.label : ''"}},
"y":{"field":"y","type":"quantitative","scale":{"domain":[-50,800],"nice":false,"zero":false},"axis":{"title":"Intensity/a.u.","titlePadding":18,"titleY":134,"values":[-50,0,50,100,150,200,250,300,350,400,450,500,550,600,650,700,750,800],"labelExpr":"datum.value % 100 === 0 ? datum.label : ''","tickSize":{"condition":{"test":"datum.value % 100 === 0","value":5},"value":3}}}},
"layer":[
{"data":{"name":"e_exp"},"mark":{"type":"line","color":"black","strokeWidth":1}},
{"data":{"name":"e_fit"},"mark":{"type":"line","color":"#f0287d","strokeWidth":1.3,"interpolate":"monotone"}},
{"data":{"name":"e_l"},"mark":{"type":"line","color":"#1414f0","strokeWidth":1.1,"interpolate":"monotone"}},
{"data":{"name":"e_g"},"mark":{"type":"line","color":"black","strokeWidth":0.8,"interpolate":"monotone"}}]},
{"data":{"values":[{}]},"mark":{"type":"text","text":"e","font":"Liberation Sans","fontWeight":"bold","fontSize":30,"align":"left","baseline":"alphabetic","color":"black"},"encoding":{"x":{"datum":1039,"axis":null},"y":{"datum":715,"axis":null}}},
{"data":{"values":[{}]},"mark":{"type":"text","text":"450 °C-120 min","font":"Liberation Serif","fontSize":17,"align":"left","baseline":"alphabetic","color":"black"},"encoding":{"x":{"datum":1101,"axis":null},"y":{"datum":715,"axis":null}}}
]},
{"width":332,"height":233,"title":{"text":" ","fontSize":2,"offset":10},"resolve":{"axis":{"x":"independent","y":"independent"}},"layer":[
{"encoding":{"x":{"field":"x","type":"quantitative","scale":{"domain":[0,3000],"nice":false,"zero":false},"axis":{"title":"Raman shift/cm⁻¹","titlePadding":4,"values":[0,250,500,750,1000,1250,1500,1750,2000,2250,2500,2750,3000],"labelExpr":"datum.value % 500 === 0 ? datum.label : ''"}},
"y":{"field":"y","type":"quantitative","scale":{"domain":[-1000,10000],"nice":false,"zero":false},"axis":{"title":"Intensity/a.u.","titlePadding":6,"titleY":131,"values":[-1000,0,1000,2000,3000,4000,5000,6000,7000,8000,9000,10000],"labelExpr":"datum.value % 2000 === 0 ? datum.label : ''","tickSize":{"condition":{"test":"datum.value % 2000 === 0","value":5},"value":3}}}},
"layer":[
{"data":{"name":"f_exp"},"mark":{"type":"line","color":"black","strokeWidth":1.3}}]},
{"data":{"values":[{}]},"mark":{"type":"text","text":"f","font":"Liberation Sans","fontWeight":"bold","fontSize":30,"align":"left","baseline":"alphabetic","color":"black"},"encoding":{"x":{"datum":145,"axis":null},"y":{"datum":8900,"axis":null}}},
{"data":{"values":[{}]},"mark":{"type":"text","text":"310 °C-120 min","font":"Liberation Serif","fontSize":17,"align":"left","baseline":"alphabetic","color":"black"},"encoding":{"x":{"datum":310,"axis":null},"y":{"datum":8900,"axis":null}}}
]}
]
}
